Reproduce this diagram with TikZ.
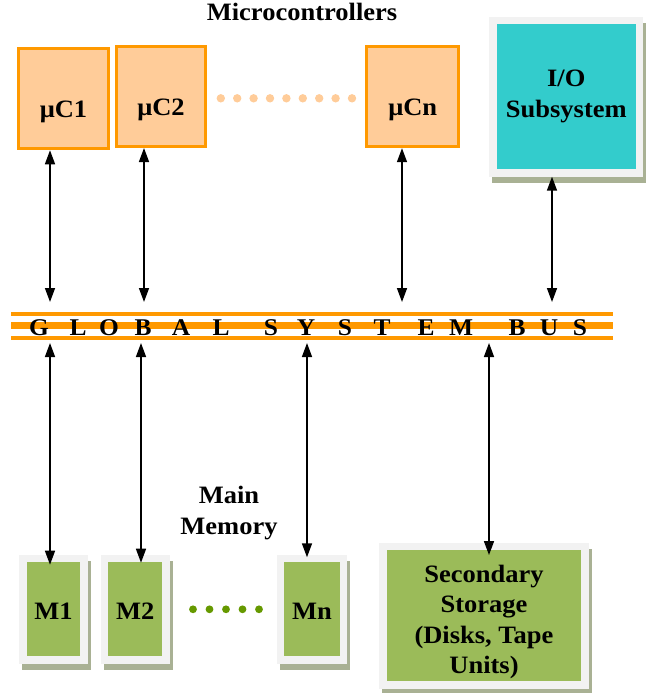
\documentclass[tikz,border=0pt]{standalone}
\usepackage{fontspec}
\setmainfont{Liberation Serif}[FakeStretch=1.06]
\usetikzlibrary{arrows.meta,calc}

\definecolor{ucfill}{HTML}{FFCC99}
\definecolor{ucline}{HTML}{FF9900}
\definecolor{iofill}{HTML}{33CCCC}
\definecolor{memfill}{HTML}{9BBB59}
\definecolor{framegray}{HTML}{F2F2F2}
\definecolor{shadowcol}{HTML}{A9B194}
\definecolor{busorange}{HTML}{FF9900}
\definecolor{dotgreen}{HTML}{669900}

\tikzset{
  lbl/.style={font=\fontsize{25}{30.5}\selectfont\bfseries, inner sep=0pt},
  ucbox/.style={lbl, draw=ucline, fill=ucfill, line width=3pt,
    minimum height=100pt, text height=37pt, text depth=0pt},
  framed/.style={lbl, draw=framegray, line width=7.6pt,
    preaction={draw=shadowcol, fill=shadowcol,
      transform canvas={shift={(3pt,-6pt)}}}},
  membox/.style={framed, fill=memfill, minimum height=101.6pt,
    text height=20pt, text depth=0pt},
  biarrow/.style={{Triangle[length=14pt,width=10pt]}-{Triangle[length=14pt,width=10pt]},
    line width=1.5pt},
  busletter/.style={font=\fontsize{24}{28}\selectfont\bfseries, inner sep=0pt, anchor=base},
}

\begin{document}
\begin{tikzpicture}[x=1pt, y=-1pt]
\useasboundingbox (0,0) rectangle (651,693);

% heading over the microcontrollers
\node[lbl, anchor=base] (title) at (302,21) {Microcontrollers};

% microcontrollers
\node[ucbox, minimum width=90pt] (uc1) at (63.5,98.8) {μC1};
\node[ucbox, minimum width=89pt] (uc2) at (161,96.5) {μC2};
\node[ucbox, minimum width=91.7pt] (ucn) at (412.7,96.7) {μCn};
\foreach \i in {0,...,8}
  \fill[ucfill] (220.8+16.4*\i, 98.3) circle (4.2pt);

% I/O subsystem
\node[framed, fill=iofill, align=center, minimum width=146.4pt, minimum height=152.4pt,
      text height=40.6pt, text depth=0pt] (io) at (566.3,96.7) {I/O\\Subsystem};

% global system bus
\node[minimum width=602pt, minimum height=41pt, inner sep=0pt, outer sep=0pt,
  path picture={
    \fill[busorange] ([yshift=-9.7pt]path picture bounding box.north west)
      rectangle ([yshift=-14.2pt]path picture bounding box.north east);
    \fill[busorange] ([yshift=-19.7pt]path picture bounding box.north west)
      rectangle ([yshift=-26.6pt]path picture bounding box.north east);
    \fill[busorange] ([yshift=-33.5pt]path picture bounding box.north west)
      rectangle ([yshift=-38pt]path picture bounding box.north east);
  }] (bus) at (312,322.5) {};
\foreach \ch/\x [count=\k] in {G/39,L/78,O/109,B/143,A/181,L/221,S/271,Y/306,
                               S/345,T/382,E/426,M/461,B/517,U/549,S/580}
  \node[busletter] (bl\k) at (\x,335.5) {\ch};

% main memory modules
\node[lbl, align=center] (mmlabel) at (229,513) {Main\\Memory};
\node[membox, minimum width=61.4pt] (m1) at (53.5,609.3) {M1};
\node[membox, minimum width=61.4pt] (m2) at (135.3,609.3) {M2};
\node[membox, minimum width=63pt] (mn) at (312,609.3) {Mn};
\foreach \i in {0,...,4}
  \fill[dotgreen] (193+16.5*\i, 609.3) circle (3.9pt);

% secondary storage
\node[framed, fill=memfill, align=center, minimum width=202.4pt, minimum height=138.7pt,
      text height=116pt, text depth=0pt] (sec) at (484,615.9)
      {Secondary\\Storage\\(Disks, Tape\\Units)};

% connections to the bus
\draw[biarrow] ([xshift=-13.5pt]uc1.south) -- ([xshift=-13.5pt]uc1.south |- bus.north);
\draw[biarrow] ([xshift=-17pt]uc2.south) -- ([xshift=-17pt]uc2.south |- bus.north);
\draw[biarrow] ([xshift=-10.7pt]ucn.south) -- ([xshift=-10.7pt]ucn.south |- bus.north);
\draw[biarrow] ([xshift=-14.3pt]io.south) -- ([xshift=-14.3pt]io.south |- bus.north);

\draw[biarrow] ([xshift=-3.5pt]m1.north |- bus.south) -- ([xshift=-3.5pt,yshift=-10pt]m1.north);
\draw[biarrow] ([xshift=5.7pt]m2.north |- bus.south) -- ([xshift=5.7pt,yshift=-8pt]m2.north);
\draw[biarrow] ([xshift=-5pt]mn.north |- bus.south) -- ([xshift=-5pt,yshift=-2.6pt]mn.north);
\draw[biarrow] ([xshift=5pt]sec.north |- bus.south) -- ([xshift=5pt,yshift=-12.3pt]sec.north);
\end{tikzpicture}
\end{document}
